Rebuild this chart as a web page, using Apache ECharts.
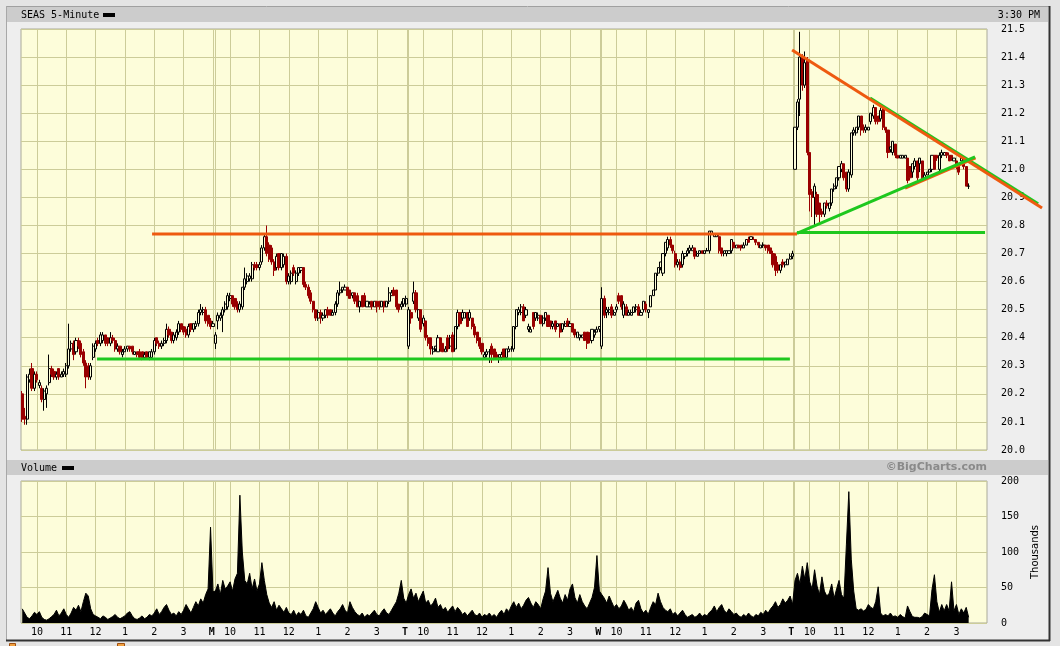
<!DOCTYPE html>
<html>
<head>
<meta charset="utf-8">
<script src="https://cdn.jsdelivr.net/npm/echarts/dist/echarts.min.js"></script>
<style>
html,body{margin:0;padding:0;background:#e4e4e4;}
#chart{width:1060px;height:646px;}
</style>
</head>
<body>
<div id="chart"></div>
<script>
// ---------- DATA (5-minute bars, [open, close, low, high]) ----------
const day1Candles = [
[20.20,20.11,20.10,20.21],[20.12,20.11,20.09,20.15],[20.11,20.26,20.09,20.27],[20.25,20.27,20.24,20.29],[20.29,20.22,20.21,20.31],
[20.22,20.27,20.21,20.28],[20.27,20.25,20.24,20.28],[20.23,20.24,20.22,20.25],[20.22,20.18,20.17,20.23],[20.18,20.21,20.14,20.22],
[20.20,20.22,20.15,20.23],[20.24,20.29,20.23,20.34],[20.29,20.27,20.26,20.30],[20.28,20.26,20.25,20.29],[20.26,20.27,20.25,20.28],
[20.29,20.26,20.25,20.29],[20.26,20.27,20.26,20.28],[20.27,20.28,20.26,20.29],[20.27,20.30,20.26,20.31],[20.30,20.36,20.29,20.45],
[20.36,20.38,20.35,20.39],[20.38,20.34,20.32,20.39],[20.35,20.39,20.34,20.40],[20.39,20.37,20.36,20.40],[20.38,20.34,20.33,20.39],
[20.35,20.31,20.30,20.36],[20.31,20.26,20.22,20.32],[20.30,20.26,20.25,20.31],[20.26,20.30,20.25,20.31],[20.33,20.37,20.32,20.38],
[20.36,20.38,20.35,20.39],[20.39,20.38,20.37,20.40],[20.38,20.41,20.37,20.42],[20.39,20.41,20.38,20.42],[20.41,20.38,20.37,20.41],
[20.40,20.38,20.37,20.40],[20.38,20.40,20.37,20.42],[20.40,20.39,20.38,20.41],[20.39,20.36,20.35,20.40],[20.36,20.37,20.35,20.38],
[20.37,20.35,20.34,20.37],[20.34,20.35,20.33,20.36],[20.35,20.36,20.35,20.37],[20.36,20.37,20.35,20.37],[20.37,20.36,20.35,20.37],
[20.37,20.35,20.34,20.37],[20.34,20.35,20.34,20.35],[20.35,20.34,20.33,20.35],[20.35,20.33,20.33,20.36],[20.35,20.33,20.32,20.35],
[20.33,20.34,20.33,20.35],[20.35,20.33,20.33,20.35],[20.33,20.35,20.32,20.35],[20.33,20.35,20.33,20.36],[20.35,20.39,20.34,20.40],
[20.40,20.38,20.37,20.40],[20.38,20.37,20.36,20.39],[20.37,20.38,20.36,20.39],[20.38,20.39,20.37,20.40],[20.39,20.43,20.38,20.45],
[20.43,20.41,20.40,20.44],[20.42,20.39,20.38,20.42],[20.39,20.41,20.38,20.42],[20.40,20.42,20.39,20.43],[20.42,20.45,20.41,20.46],
[20.45,20.43,20.42,20.45],[20.44,20.42,20.41,20.44],[20.43,20.41,20.40,20.44],[20.41,20.44,20.40,20.45],[20.45,20.43,20.42,20.45],
[20.43,20.45,20.42,20.45],[20.44,20.45,20.43,20.46],[20.45,20.49,20.44,20.50],[20.49,20.50,20.48,20.52],[20.49,20.50,20.48,20.51],
[20.50,20.46,20.45,20.51],[20.48,20.45,20.44,20.48],[20.46,20.44,20.43,20.47],[20.44,20.45,20.44,20.46]
];
const day2Candles = [
[20.38,20.41,20.36,20.42],[20.46,20.48,20.43,20.49],[20.47,20.48,20.46,20.49],[20.48,20.50,20.42,20.51],[20.50,20.52,20.49,20.53],
[20.51,20.55,20.50,20.56],[20.54,20.55,20.53,20.56],[20.55,20.52,20.51,20.55],[20.54,20.51,20.50,20.54],[20.52,20.50,20.49,20.53],
[20.50,20.52,20.49,20.53],[20.51,20.58,20.50,20.58],[20.58,20.61,20.57,20.65],[20.60,20.62,20.59,20.63],[20.61,20.62,20.60,20.63],
[20.61,20.66,20.60,20.67],[20.66,20.65,20.64,20.67],[20.66,20.65,20.64,20.67],[20.65,20.66,20.64,20.67],[20.67,20.72,20.66,20.73],
[20.72,20.76,20.71,20.77],[20.76,20.70,20.69,20.80],[20.73,20.68,20.67,20.74],[20.72,20.67,20.66,20.73],[20.67,20.64,20.62,20.68],
[20.65,20.69,20.64,20.70],[20.70,20.65,20.64,20.70],[20.65,20.70,20.64,20.70],[20.66,20.69,20.65,20.70],[20.69,20.60,20.59,20.70],
[20.60,20.62,20.59,20.63],[20.60,20.63,20.59,20.64],[20.65,20.63,20.62,20.66],[20.60,20.63,20.59,20.64],[20.63,20.65,20.62,20.65],
[20.64,20.65,20.63,20.65],[20.65,20.59,20.58,20.65],[20.59,20.58,20.57,20.60],[20.58,20.55,20.54,20.59],[20.56,20.53,20.52,20.57],
[20.53,20.50,20.49,20.53],[20.50,20.47,20.46,20.50],[20.47,20.49,20.46,20.50],[20.49,20.47,20.45,20.50],[20.47,20.48,20.46,20.49],
[20.48,20.50,20.47,20.50],[20.50,20.48,20.47,20.51],[20.50,20.48,20.48,20.50],[20.48,20.49,20.48,20.50],[20.49,20.52,20.48,20.53],
[20.52,20.56,20.51,20.57],[20.56,20.57,20.55,20.60],[20.57,20.58,20.56,20.58],[20.57,20.58,20.57,20.59],[20.58,20.55,20.55,20.58],
[20.57,20.54,20.54,20.57],[20.55,20.56,20.54,20.56],[20.56,20.53,20.52,20.56],[20.55,20.51,20.51,20.56],[20.51,20.53,20.49,20.53],
[20.55,20.51,20.51,20.55],[20.55,20.52,20.51,20.56],[20.51,20.53,20.51,20.53],[20.51,20.52,20.51,20.53],[20.53,20.51,20.50,20.53],
[20.51,20.53,20.51,20.53],[20.53,20.51,20.49,20.53],[20.53,20.51,20.50,20.53],[20.51,20.53,20.51,20.53],[20.53,20.51,20.49,20.53],
[20.51,20.53,20.51,20.53],[20.53,20.56,20.52,20.58],[20.55,20.56,20.55,20.57],[20.57,20.55,20.55,20.58],[20.57,20.51,20.50,20.57],
[20.52,20.50,20.49,20.52],[20.51,20.52,20.50,20.53],[20.52,20.54,20.51,20.54],[20.52,20.54,20.51,20.55]
];
const day3Candles = [
[20.37,20.50,20.36,20.51],[20.49,20.47,20.45,20.50],[20.53,20.56,20.52,20.60],[20.56,20.50,20.49,20.57],[20.47,20.50,20.46,20.50],
[20.50,20.43,20.42,20.50],[20.45,20.47,20.44,20.48],[20.46,20.40,20.39,20.46],[20.40,20.38,20.37,20.41],[20.40,20.36,20.34,20.40],
[20.35,20.36,20.34,20.37],[20.36,20.37,20.35,20.37],[20.35,20.40,20.35,20.41],[20.40,20.36,20.35,20.40],[20.38,20.35,20.35,20.38],
[20.35,20.36,20.35,20.37],[20.40,20.36,20.35,20.41],[20.37,20.40,20.36,20.41],[20.41,20.35,20.35,20.42],[20.36,20.44,20.35,20.44],
[20.44,20.49,20.43,20.50],[20.49,20.45,20.44,20.49],[20.47,20.49,20.46,20.50],[20.47,20.49,20.47,20.49],[20.49,20.44,20.44,20.49],
[20.47,20.49,20.46,20.50],[20.47,20.44,20.43,20.47],[20.44,20.41,20.40,20.45],[20.42,20.39,20.38,20.42],[20.40,20.37,20.36,20.40],
[20.38,20.35,20.34,20.38],[20.33,20.34,20.33,20.35],[20.34,20.35,20.33,20.36],[20.35,20.35,20.31,20.36],[20.37,20.34,20.31,20.38],
[20.36,20.33,20.32,20.36],[20.34,20.33,20.33,20.35],[20.33,20.34,20.31,20.34],[20.33,20.34,20.32,20.35],[20.36,20.33,20.33,20.36],
[20.33,20.36,20.33,20.36],[20.35,20.36,20.35,20.37],[20.36,20.36,20.35,20.37],[20.36,20.44,20.35,20.44],[20.44,20.50,20.43,20.50],
[20.49,20.50,20.48,20.51],[20.49,20.51,20.48,20.52],[20.51,20.46,20.46,20.52],[20.48,20.50,20.47,20.51],[20.43,20.44,20.42,20.45],
[20.42,20.43,20.42,20.44],[20.49,20.44,20.43,20.49],[20.47,20.49,20.46,20.49],[20.47,20.48,20.46,20.49],[20.48,20.45,20.45,20.48],
[20.45,20.47,20.44,20.48],[20.47,20.49,20.46,20.49],[20.48,20.44,20.44,20.48],[20.46,20.44,20.43,20.46],[20.44,20.45,20.43,20.46],
[20.46,20.43,20.42,20.46],[20.44,20.45,20.44,20.45],[20.45,20.42,20.40,20.45],[20.43,20.45,20.42,20.45],[20.44,20.45,20.44,20.46],
[20.46,20.44,20.44,20.47],[20.44,20.45,20.44,20.46],[20.45,20.42,20.42,20.45],[20.43,20.41,20.40,20.43],[20.40,20.42,20.40,20.42],
[20.40,20.41,20.39,20.41],[20.40,20.41,20.40,20.41],[20.42,20.39,20.39,20.42],[20.42,20.38,20.36,20.42],[20.41,20.39,20.38,20.42],
[20.39,20.43,20.38,20.43],[20.41,20.42,20.40,20.43],[20.42,20.43,20.42,20.44],[20.43,20.44,20.42,20.44]
];
const day4Candles = [
[20.37,20.54,20.36,20.58],[20.54,20.48,20.47,20.55],[20.49,20.50,20.47,20.51],[20.49,20.50,20.48,20.51],[20.51,20.48,20.47,20.52],
[20.48,20.49,20.48,20.50],[20.50,20.51,20.49,20.52],[20.55,20.53,20.52,20.56],[20.55,20.51,20.50,20.55],[20.48,20.52,20.47,20.53],
[20.51,20.48,20.48,20.52],[20.48,20.49,20.48,20.50],[20.48,20.49,20.48,20.50],[20.49,20.51,20.49,20.51],[20.50,20.51,20.49,20.52],
[20.51,20.48,20.48,20.52],[20.48,20.49,20.48,20.50],[20.50,20.53,20.49,20.53],[20.52,20.50,20.49,20.53],[20.49,20.50,20.47,20.50],
[20.51,20.55,20.51,20.55],[20.55,20.57,20.55,20.57],[20.57,20.63,20.57,20.63],[20.63,20.65,20.62,20.65],[20.65,20.67,20.64,20.67],
[20.63,20.70,20.62,20.70],[20.70,20.74,20.69,20.74],[20.72,20.75,20.71,20.76],[20.75,20.73,20.72,20.76],[20.73,20.71,20.70,20.73],
[20.70,20.66,20.65,20.71],[20.66,20.67,20.65,20.68],[20.67,20.65,20.64,20.68],[20.66,20.70,20.65,20.71],[20.69,20.70,20.68,20.70],
[20.70,20.71,20.69,20.72],[20.71,20.72,20.70,20.73],[20.71,20.72,20.71,20.73],[20.72,20.69,20.68,20.72],[20.69,20.70,20.69,20.71],
[20.70,20.71,20.70,20.71],[20.71,20.70,20.70,20.71],[20.70,20.71,20.70,20.71],[20.71,20.71,20.71,20.72],[20.71,20.78,20.70,20.78],
[20.77,20.78,20.77,20.78],[20.76,20.77,20.76,20.77],[20.76,20.77,20.76,20.77],[20.76,20.71,20.70,20.77],[20.72,20.70,20.69,20.72],
[20.70,20.71,20.69,20.71],[20.70,20.71,20.69,20.71],[20.70,20.71,20.70,20.71],[20.71,20.75,20.70,20.75],[20.74,20.72,20.72,20.74],
[20.72,20.73,20.72,20.73],[20.73,20.72,20.72,20.73],[20.73,20.72,20.71,20.73],[20.72,20.73,20.72,20.74],[20.73,20.75,20.73,20.75],
[20.75,20.74,20.74,20.76],[20.75,20.76,20.75,20.76],[20.75,20.75,20.75,20.76],[20.75,20.74,20.73,20.75],[20.74,20.73,20.72,20.74],
[20.72,20.73,20.72,20.73],[20.73,20.73,20.72,20.74],[20.73,20.72,20.71,20.73],[20.73,20.71,20.70,20.73],[20.72,20.70,20.70,20.72],
[20.70,20.66,20.65,20.71],[20.69,20.64,20.62,20.70],[20.66,20.64,20.63,20.67],[20.64,20.66,20.63,20.66],[20.67,20.66,20.65,20.68],
[20.66,20.67,20.65,20.67],[20.66,20.68,20.66,20.68],[20.68,20.69,20.68,20.70],[20.69,20.70,20.68,20.71]
];
const day5Candles = [
[21.00,21.15,21.00,21.15],[21.15,21.24,21.14,21.25],[21.25,21.40,21.19,21.49],[21.40,21.30,21.28,21.41],[21.30,21.38,21.29,21.42],
[21.39,21.06,21.05,21.40],[21.06,20.91,20.85,21.06],[20.92,20.90,20.83,20.93],[20.90,20.94,20.80,20.95],[20.91,20.84,20.83,20.92],
[20.88,20.84,20.81,20.88],[20.85,20.84,20.83,20.86],[20.84,20.88,20.83,20.88],[20.88,20.87,20.86,20.89],[20.86,20.88,20.85,20.88],
[20.88,20.93,20.87,20.93],[20.93,20.94,20.92,20.95],[20.94,20.97,20.93,20.97],[20.97,21.01,20.96,21.01],[21.00,21.02,20.99,21.03],
[21.02,20.97,20.96,21.02],[20.99,20.93,20.92,20.99],[20.93,20.99,20.92,21.00],[20.98,21.13,20.97,21.13],[21.13,21.14,21.12,21.15],
[21.13,21.15,21.12,21.15],[21.15,21.19,21.14,21.19],[21.19,21.14,21.12,21.19],[21.15,21.14,21.13,21.16],[21.14,21.15,21.13,21.16],
[21.14,21.15,21.14,21.15],[21.17,21.20,21.16,21.20],[21.19,21.22,21.18,21.23],[21.22,21.17,21.16,21.22],[21.19,21.17,21.16,21.19],
[21.18,21.21,21.17,21.22],[21.22,21.15,21.14,21.22],[21.15,21.14,21.13,21.15],[21.14,21.06,21.04,21.14],[21.07,21.08,21.06,21.08],
[21.06,21.10,21.05,21.10],[21.09,21.05,21.04,21.09],[21.05,21.04,21.04,21.05],[21.04,21.05,21.04,21.05],[21.04,21.05,21.04,21.05],
[21.04,21.05,21.04,21.05],[21.04,20.96,20.95,21.04],[21.01,20.97,20.96,21.01],[20.99,21.02,20.97,21.02],[21.01,21.03,21.00,21.04],
[21.03,20.97,20.96,21.03],[21.02,21.04,20.99,21.04],[21.03,20.97,20.96,21.03],[20.97,20.98,20.97,20.99],[20.98,20.99,20.98,20.99],
[20.99,21.00,20.99,21.00],[21.00,21.05,20.99,21.05],[21.05,21.00,21.00,21.05],[21.05,21.04,21.03,21.05],[21.00,21.05,20.99,21.06],
[21.05,21.06,21.04,21.07],[21.05,21.06,21.05,21.06],[21.06,21.05,21.04,21.06],[21.05,21.03,21.03,21.06],[21.05,21.04,21.03,21.05],
[21.03,21.04,21.03,21.04],[21.03,21.01,21.00,21.03],[21.01,20.99,20.98,21.02],[21.03,21.04,21.02,21.04],[21.03,21.01,21.00,21.04],
[21.01,20.94,20.94,21.01],[20.94,20.94,20.93,20.95]
];
// Volume in thousands, one value per bar
const day1Volume = [20,14,8,6,10,15,12,16,8,5, 4,6,9,12,18,10,14,20,12,8, 14,22,18,25,16,30,42,38,20,12, 10,8,6,10,8,5,7,9,12,8, 6,8,10,14,16,10,6,5,7,10, 6,8,12,10,14,20,12,16,22,26, 18,12,14,10,16,12,18,26,20,14, 22,30,24,34,28,40,48,135,44];
const day2Volume = [45,55,40,60,48,52,58,45,62,70, 180,100,60,55,70,48,62,45,55,85, 60,40,28,22,30,18,25,20,15,22, 14,12,18,10,15,12,18,10,8,14, 20,30,22,14,18,12,16,20,14,10, 16,20,26,18,14,30,22,16,12,10, 14,8,12,10,14,18,12,10,16,20, 14,12,18,24,30,42,60,35,28];
const day3Volume = [40,48,35,42,30,38,45,28,32,24, 28,35,22,26,18,22,15,20,24,16, 22,18,12,15,10,14,18,12,10,14, 8,12,10,14,9,12,8,14,18,12, 20,16,24,30,22,28,20,25,32,36, 28,22,30,26,20,34,45,78,42,30, 38,46,35,28,40,32,48,55,36,28, 40,30,24,20,28,36,50,95,45];
const day4Volume = [40,35,28,38,30,22,26,20,24,32, 26,18,22,16,28,32,20,14,18,12, 22,30,26,42,30,22,18,16,20,12, 15,10,14,18,12,8,10,12,8,10, 14,9,12,10,15,18,24,16,22,26, 18,14,20,16,12,14,10,8,12,9, 14,10,8,12,10,15,12,18,14,20, 24,30,22,26,34,28,32,38,26];
const day5Volume = [60,70,55,80,62,85,58,48,75,52, 40,65,45,38,42,55,35,48,60,40, 35,110,185,90,45,20,18,20,17,19, 26,22,20,30,51,14,10,12,10,14, 9,10,8,12,9,7,24,16,9,8, 8,7,9,14,12,10,47,68,30,15, 26,17,26,17,58,17,26,12,20,14, 22,8];

// Time axis: 79 five-minute slots per session, 5 sessions
const SLOTS_PER_DAY = 79;
const SESSIONS = 5;
const hourOffsets = [6, 18, 30, 42, 54, 66];
const hourLabels = ['10', '11', '12', '1', '2', '3'];
const dayLetters = ['', 'M', 'T', 'W', 'T'];
const priceTicks = {min: 20.0, max: 21.5, step: 0.1};
const volumeTicks = {min: 0, max: 200, step: 50};

// Hand-drawn trend lines: [[slot, price], [slot, price]]
const resistanceLine = [[53.1, 20.770], [316.8, 20.770]];
const supportLine = [[30.6, 20.324], [313.9, 20.324]];
const triangleBaseLine = [[316.8, 20.775], [393.7, 20.775]];
const upperTrendOrange = [[314.8, 21.425], [417.0, 20.862]];
const upperTrendGreen = [[346.7, 21.254], [415.4, 20.877]];
const lowerTrendGreen = [[316.8, 20.772], [389.6, 21.044]];
const lowerTrendOrange = [[361.0, 20.933], [389.8, 21.041]];

// ---------- BUILD ----------
const allCandles = [].concat(day1Candles, day2Candles, day3Candles, day4Candles, day5Candles);
const candleData = allCandles.map((c, i) => [i, c[0], c[1], c[2], c[3]]);
const allVolume = [].concat(day1Volume, day2Volume, day3Volume, day4Volume, day5Volume);
const volumeData = allVolume.map((v, i) => [i, v]);

const labelMap = {};
const labelValues = [];
const vLines = [];
for (let d = 0; d < SESSIONS; d++) {
  hourOffsets.forEach((off, h) => {
    const v = d * SLOTS_PER_DAY + off;
    labelMap[v] = hourLabels[h];
    labelValues.push(v);
    vLines.push(v);
  });
  if (d > 0) {
    const lv = d * SLOTS_PER_DAY - 1.5;
    labelMap[lv] = '{b|' + dayLetters[d] + '}';
    labelValues.push(lv);
    vLines.push(d * SLOTS_PER_DAY - 0.75, d * SLOTS_PER_DAY - 0.2);
  }
}

const GRID_COLOR = '#cccc99';
const PLOT_BG = '#fdfdda';
const MONO = 'DejaVu Sans Mono';
const ORANGE = '#ee5a10';
const GREEN = '#1ec81e';
const xMin = -0.5, xMax = SLOTS_PER_DAY * SESSIONS - 0.5;

const gridMarkLine = {
  silent: true, z: 1, symbol: ['none', 'none'], animation: false,
  label: {show: false}, emphasis: {disabled: true},
  lineStyle: {color: GRID_COLOR, width: 1, type: 'solid', opacity: 1},
  data: vLines.map(v => ({xAxis: v}))
};

// Trend lines drawn through the axes' own scales (custom series is not clipped)
function trend(line, color, z) {
  return {
    type: 'custom', xAxisIndex: 0, yAxisIndex: 0, z: z, silent: true, clip: false, animation: false,
    data: [[line[0][0], line[0][1], line[1][0], line[1][1]]],
    encode: {x: [0, 2], y: [1, 3]},
    renderItem: function (params, api) {
      const p1 = api.coord([api.value(0), api.value(1)]);
      const p2 = api.coord([api.value(2), api.value(3)]);
      return {type: 'line', shape: {x1: p1[0], y1: p1[1], x2: p2[0], y2: p2[1]},
        style: {stroke: color, lineWidth: 3, lineCap: 'butt'}};
    }
  };
}

const chart = echarts.init(document.getElementById('chart'), null, {renderer: 'canvas'});
const option = {
  animation: false,
  backgroundColor: '#e4e4e4',
  textStyle: {fontFamily: MONO},
  graphic: [
    {type: 'rect', z: -10, silent: true, shape: {x: 6, y: 6, width: 1043, height: 634}, style: {fill: '#eeeeee'}},
    {type: 'rect', z: -9, silent: true, shape: {x: 7, y: 7, width: 1041, height: 15}, style: {fill: '#cccccc'}},
    {type: 'rect', z: -9, silent: true, shape: {x: 7, y: 460, width: 1041, height: 15}, style: {fill: '#cccccc'}},
    {type: 'line', z: -8, silent: true, shape: {x1: 6, y1: 6.5, x2: 1049, y2: 6.5}, style: {stroke: '#a0a0a0', lineWidth: 1}},
    {type: 'line', z: -8, silent: true, shape: {x1: 6.5, y1: 6, x2: 6.5, y2: 640}, style: {stroke: '#a8a8a8', lineWidth: 1}},
    {type: 'line', z: -8, silent: true, shape: {x1: 1049.5, y1: 6, x2: 1049.5, y2: 641}, style: {stroke: '#333333', lineWidth: 2}},
    {type: 'line', z: -8, silent: true, shape: {x1: 6, y1: 640.5, x2: 1050, y2: 640.5}, style: {stroke: '#333333', lineWidth: 2}},
    {type: 'text', z: -7, silent: true, x: 21, y: 15, style: {text: 'SEAS 5-Minute', font: '10px ' + MONO, fill: '#000', align: 'left', verticalAlign: 'middle'}},
    {type: 'rect', z: -7, silent: true, shape: {x: 103, y: 13, width: 12, height: 4}, style: {fill: '#000'}},
    {type: 'text', z: -7, silent: true, x: 1040, y: 15, style: {text: '3:30 PM', font: '10px ' + MONO, fill: '#000', align: 'right', verticalAlign: 'middle'}},
    {type: 'text', z: -7, silent: true, x: 21, y: 468, style: {text: 'Volume', font: '10px ' + MONO, fill: '#000', align: 'left', verticalAlign: 'middle'}},
    {type: 'rect', z: -7, silent: true, shape: {x: 62, y: 466, width: 12, height: 4}, style: {fill: '#000'}},
    {type: 'text', z: -7, silent: true, x: 987, y: 467.5, style: {text: '©BigCharts.com', font: 'bold 11px "DejaVu Sans"', fill: '#8a8a8a', align: 'right', verticalAlign: 'middle'}},
    {type: 'rect', z: -7, silent: true, shape: {x: 9.5, y: 643.5, width: 6, height: 5}, style: {fill: '#f0a040', stroke: '#a05010', lineWidth: 1}},
    {type: 'rect', z: -7, silent: true, shape: {x: 117.5, y: 643.5, width: 7, height: 5}, style: {fill: '#f0a040', stroke: '#a05010', lineWidth: 1}}
  ],
  grid: [
    {left: 21, right: 73, top: 29, height: 421, show: true, backgroundColor: PLOT_BG, borderColor: '#aaaa99', borderWidth: 1},
    {left: 21, right: 73, top: 481, height: 142, show: true, backgroundColor: PLOT_BG, borderColor: '#aaaa99', borderWidth: 1}
  ],
  xAxis: [
    {type: 'value', gridIndex: 0, min: xMin, max: xMax, axisLine: {show: false}, axisTick: {show: false}, axisLabel: {show: false}, splitLine: {show: false}},
    {type: 'value', gridIndex: 1, min: xMin, max: xMax, axisLine: {show: false}, axisTick: {show: false}, splitLine: {show: false},
      axisLabel: {
        show: true, customValues: labelValues, margin: 4, color: '#000', fontFamily: MONO, fontSize: 10,
        formatter: v => labelMap[v] !== undefined ? labelMap[v] : '',
        rich: {b: {fontFamily: MONO, fontSize: 10, fontWeight: 'bold', color: '#000'}}
      }}
  ],
  yAxis: [
    {type: 'value', gridIndex: 0, position: 'right', min: priceTicks.min, max: priceTicks.max, interval: priceTicks.step,
      axisLine: {show: false}, axisTick: {show: false},
      axisLabel: {margin: 14, color: '#000', fontFamily: MONO, fontSize: 10, formatter: v => v.toFixed(1)},
      splitLine: {show: true, lineStyle: {color: GRID_COLOR, width: 1}}},
    {type: 'value', gridIndex: 1, position: 'right', min: volumeTicks.min, max: volumeTicks.max, interval: volumeTicks.step,
      axisLine: {show: false}, axisTick: {show: false},
      axisLabel: {margin: 14, color: '#000', fontFamily: MONO, fontSize: 10},
      splitLine: {show: true, lineStyle: {color: GRID_COLOR, width: 1}},
      name: 'Thousands', nameLocation: 'middle', nameRotate: 90, nameGap: 43,
      nameTextStyle: {fontFamily: 'DejaVu Sans', fontSize: 10, color: '#000'}}
  ],
  series: [
    {
      type: 'candlestick', xAxisIndex: 0, yAxisIndex: 0, data: candleData, z: 3,
      barWidth: 2.6, silent: true,
      itemStyle: {color: PLOT_BG, color0: '#990000', borderColor: '#000000', borderColor0: '#990000', borderWidth: 1},
      markLine: gridMarkLine
    },
    {
      type: 'line', xAxisIndex: 1, yAxisIndex: 1, data: volumeData, symbol: 'none', z: 3, silent: true,
      lineStyle: {color: '#000', width: 1},
      areaStyle: {color: '#000', opacity: 1},
      markLine: gridMarkLine
    },
    trend(resistanceLine, ORANGE, 10),
    trend(supportLine, GREEN, 10),
    trend(triangleBaseLine, GREEN, 10),
    trend(upperTrendGreen, GREEN, 10),
    trend(upperTrendOrange, ORANGE, 11),
    trend(lowerTrendOrange, ORANGE, 10),
    trend(lowerTrendGreen, GREEN, 11)
  ]
};
chart.setOption(option);
</script>
</body>
</html>
